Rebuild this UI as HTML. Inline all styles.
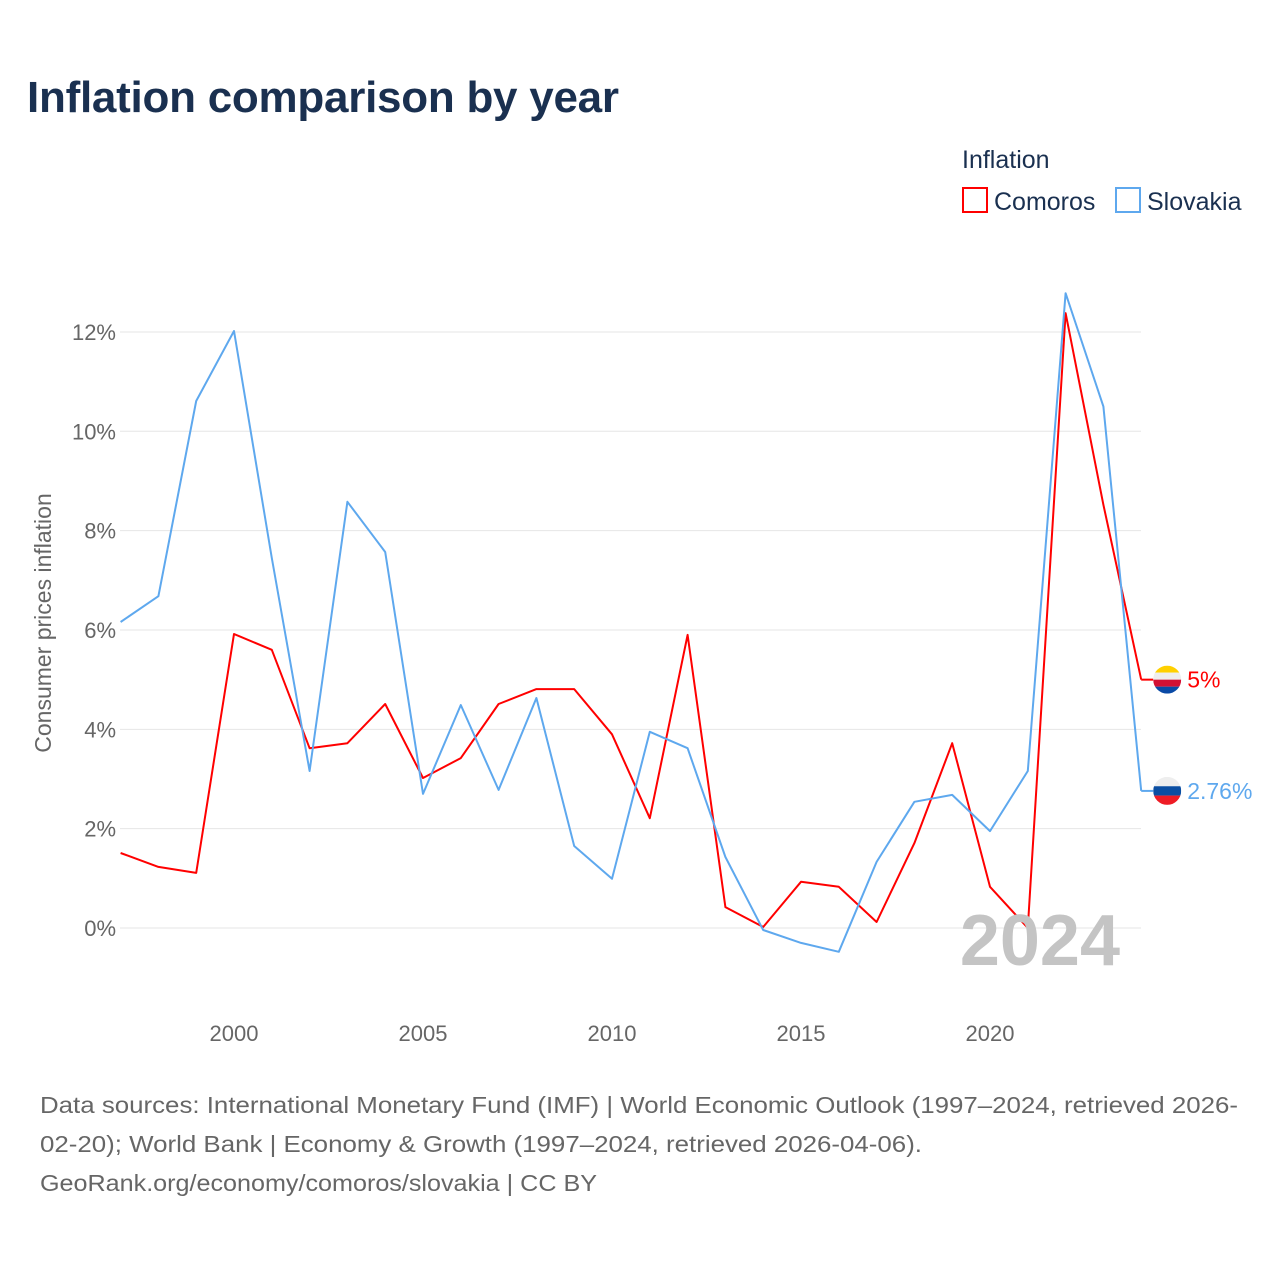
<!DOCTYPE html>
<html><head><meta charset="utf-8"><style>
body{margin:0;background:#fff;font-family:"Liberation Sans",sans-serif}
</style></head><body>
<svg width="1280" height="1280" xmlns="http://www.w3.org/2000/svg" font-family="Liberation Sans, sans-serif">
<rect width="1280" height="1280" fill="#fff"/>
<text x="27" y="112" font-size="44" font-weight="bold" fill="#1a3050" textLength="592">Inflation comparison by year</text>
<text x="962" y="168" font-size="25" fill="#1a3050">Inflation</text>
<g><rect x="963" y="188" width="24" height="24" fill="none" stroke="#f00" stroke-width="2"/><text x="994" y="210" font-size="25" fill="#1a3050">Comoros</text></g>
<g><rect x="1116" y="188" width="24" height="24" fill="none" stroke="#5ea8ee" stroke-width="2"/><text x="1147" y="210" font-size="25" fill="#1a3050">Slovakia</text></g>
<g id="grid"></g><g id="axes"></g><g id="lines"></g>
<text x="1120" y="965" font-size="72" font-weight="bold" fill="#c4c4c4" text-anchor="end">2024</text>
<text transform="translate(51,623) rotate(-90)" font-size="23" fill="#666" text-anchor="middle">Consumer prices inflation</text>
<g font-size="23" fill="#666">
<text x="40" y="1113" textLength="1198" lengthAdjust="spacingAndGlyphs">Data sources: International Monetary Fund (IMF) | World Economic Outlook (1997–2024, retrieved 2026-</text>
<text x="40" y="1152" textLength="882" lengthAdjust="spacingAndGlyphs">02-20); World Bank | Economy &amp; Growth (1997–2024, retrieved 2026-04-06).</text>
<text x="40" y="1191" textLength="557" lengthAdjust="spacingAndGlyphs">GeoRank.org/economy/comoros/slovakia | CC BY</text>
</g>
</svg>
<script>
const years=[1997,1998,1999,2000,2001,2002,2003,2004,2005,2006,2007,2008,2009,2010,2011,2012,2013,2014,2015,2016,2017,2018,2019,2020,2021,2022,2023,2024];
const comoros=[1.51,1.23,1.11,5.92,5.6,3.62,3.72,4.51,3.02,3.42,4.51,4.81,4.81,3.9,2.21,5.9,0.42,0.02,0.93,0.83,0.12,1.71,3.72,0.83,0,12.38,8.52,5.0];
const slovakia=[6.16,6.68,10.61,12.02,7.45,3.16,8.58,7.57,2.7,4.49,2.78,4.63,1.65,0.99,3.95,3.62,1.43,-0.04,-0.3,-0.48,1.33,2.54,2.68,1.95,3.16,12.78,10.5,2.76];
const yTicks=[0,2,4,6,8,10,12];
const xTicks=[2000,2005,2010,2015,2020];
const NS="http://www.w3.org/2000/svg";
const x=v=>120.6+(v-1997)*37.8;
const y=v=>928-v*49.67;
function mk(t,a,p){const e=document.createElementNS(NS,t);for(const k in a)e.setAttribute(k,a[k]);p.appendChild(e);return e;}
const grid=document.getElementById('grid'),axes=document.getElementById('axes'),lines=document.getElementById('lines');
yTicks.forEach(t=>{
 const l=mk('line',{x1:120,x2:1141,y1:y(t),y2:y(t),stroke:'#e6e6e6','stroke-width':1},grid);
 
 
 const tx=mk('text',{x:116,y:y(t)+8,'font-size':22,fill:'#666','text-anchor':'end'},axes);
 tx.textContent=t+'%';
 
 
});
xTicks.forEach(t=>{
 const tx=mk('text',{x:x(t),y:1041,'font-size':22,fill:'#666','text-anchor':'middle'},axes);
 tx.textContent=t;
 
 
});
function series(vals,col,name,label,flag){
 const d=vals.map((v,i)=>(i?'L':'M')+x(years[i]).toFixed(1)+','+y(v).toFixed(1)).join(' ');
 const p=mk('path',{d:d,fill:'none',stroke:col,'stroke-width':2,'stroke-linejoin':'round'},lines);
 
 
 const last=vals[vals.length-1],ly=y(last),lx=x(years[years.length-1]);
 const c=mk('line',{x1:lx,x2:lx+12,y1:ly,y2:ly,stroke:col,'stroke-width':2},lines);
 
 
 const g=mk('g',{},lines);
 
 
 const cx=lx+26;
 flag.forEach((fc,i)=>{mk('rect',{x:cx-14,y:ly-14+i*28/flag.length,width:28,height:28/flag.length,fill:fc},g);});
 const cl=mk('clipPath',{id:'cp'+name},g);mk('circle',{cx:cx,cy:ly,r:14},cl);
 g.setAttribute('clip-path','url(#cp'+name+')');
 const t=mk('text',{x:lx+46,y:ly+8,'font-size':23,fill:col},lines);
 t.textContent=label;
 
 
}
series(comoros,'#ff0000','comoros','5%',['#ffd000','#eeeeee','#d21034','#0a4aa6']);
series(slovakia,'#5ea8ee','slovakia','2.76%',['#eeeeee','#0b4ea2','#ee1c25']);
</script>
</body></html>
